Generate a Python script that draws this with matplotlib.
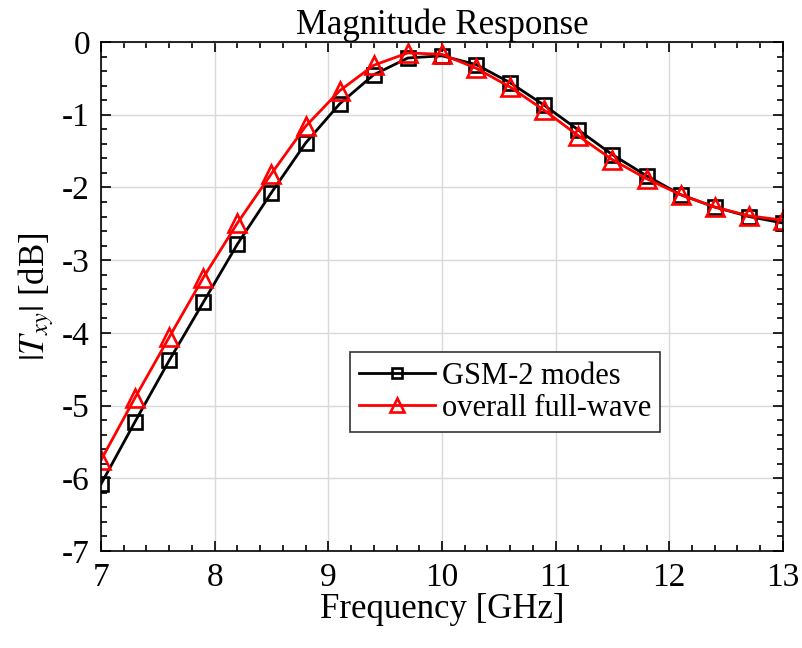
import matplotlib.pyplot as plt
import numpy as np
from matplotlib.ticker import MultipleLocator

# frequency samples [GHz]
freq = [7.0, 7.3, 7.6, 7.9, 8.2, 8.5, 8.8, 9.1, 9.4, 9.7, 10.0,
        10.3, 10.6, 10.9, 11.2, 11.5, 11.8, 12.1, 12.4, 12.7, 13.0]

# |Txy| in dB, GSM with 2 modes
gsm_2modes = [-6.08, -5.22, -4.38, -3.58, -2.78, -2.07, -1.39, -0.85, -0.45, -0.22, -0.19,
              -0.31, -0.56, -0.87, -1.21, -1.55, -1.84, -2.10, -2.27, -2.40, -2.49]

# |Txy| in dB, overall full-wave
full_wave = [-5.75, -4.89, -4.06, -3.24, -2.49, -1.81, -1.16, -0.67, -0.32, -0.15, -0.17,
             -0.36, -0.62, -0.94, -1.29, -1.62, -1.88, -2.10, -2.27, -2.39, -2.45]

plt.rcParams['font.family'] = ['Liberation Serif', 'DejaVu Serif']
plt.rcParams['mathtext.fontset'] = 'stix'

fig = plt.figure(figsize=(8.03, 6.48), dpi=100)
ax = fig.add_axes([0.1258, 0.1497, 0.8492, 0.7855])

ax.plot(freq, gsm_2modes, color='black', linewidth=2, marker='s', markersize=10,
        markerfacecolor='none', markeredgewidth=1.9, label='GSM-2 modes')
ax.plot(freq, full_wave, color='red', linewidth=2, marker='^', markersize=13,
        markerfacecolor='none', markeredgewidth=1.9, label='overall full-wave')

ax.set_xlim(7, 13)
ax.set_ylim(-7, 0)
ax.xaxis.set_major_locator(MultipleLocator(1))
ax.xaxis.set_minor_locator(MultipleLocator(0.2))
ax.yaxis.set_major_locator(MultipleLocator(1))
ax.yaxis.set_minor_locator(MultipleLocator(0.2))
ax.set_yticks(np.arange(-7, 1, 1))
ax.set_yticklabels([str(v) for v in range(-7, 1)])

ax.tick_params(which='both', direction='in', top=True, right=True, labelsize=24, width=1.2)
ax.tick_params(which='major', length=7, pad=8)
ax.tick_params(which='minor', length=4)
ax.grid(True, which='major', color='#d9d9d9', linewidth=1)
ax.set_axisbelow(True)
for s in ax.spines.values():
    s.set_linewidth(1.2)

ax.set_title('Magnitude Response', fontsize=25, pad=1)
ax.set_xlabel('Frequency [GHz]', fontsize=25, labelpad=0)
ax.set_ylabel(r'$|T_{xy}|$ [dB]', fontsize=25, labelpad=4)

leg = ax.legend(loc='lower left', bbox_to_anchor=(0.365, 0.234), fontsize=22,
                frameon=True, fancybox=False, edgecolor='#333333', framealpha=1,
                handlelength=2.5, borderpad=0.3, labelspacing=0.1, handletextpad=0.2,
                borderaxespad=0, markerscale=0.75)
leg.get_frame().set_linewidth(1.2)

fig.savefig('out.png', dpi=100)
